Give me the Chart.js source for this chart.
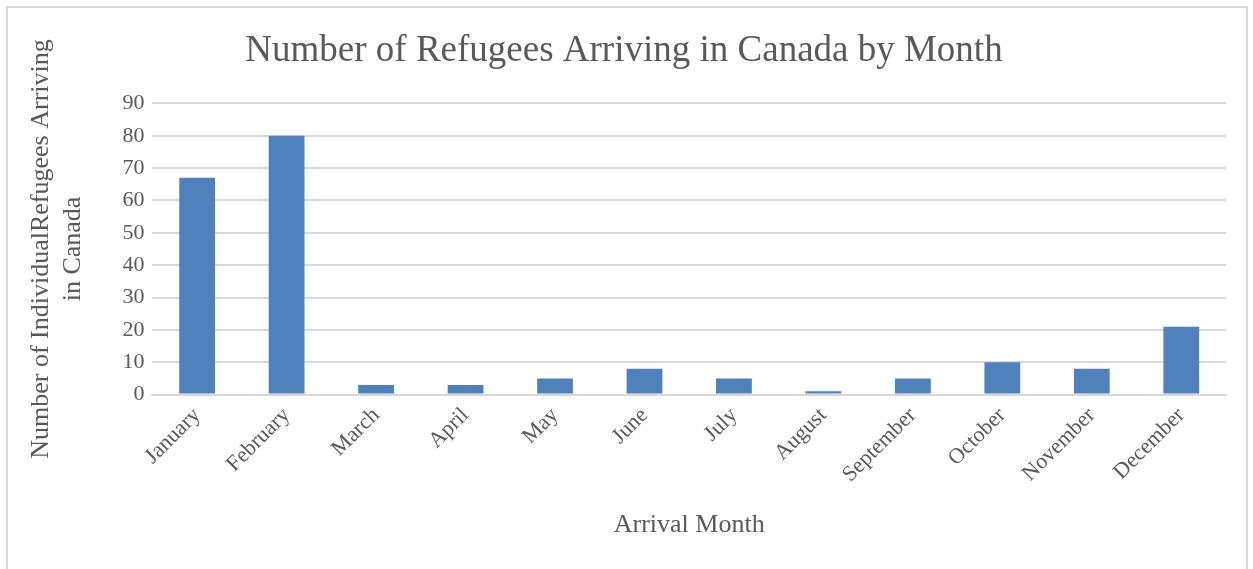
<!DOCTYPE html>
<html>
<head>
<meta charset="utf-8">
<script src="https://cdn.jsdelivr.net/npm/chart.js@4"></script>
<style>
  body { margin: 0; background: #fff; }
  #box { position: absolute; left: 6px; top: 6px; width: 1242px; height: 570px; border: 2px solid #d9d9d9; box-sizing: border-box; }
  #wrap { position: absolute; left: 0; top: 0; width: 1238px; height: 566px; }
</style>
</head>
<body>
<div id="box"><div id="wrap"><canvas id="chart"></canvas></div></div>
<script>
const months = ['January', 'February', 'March', 'April', 'May', 'June', 'July', 'August', 'September', 'October', 'November', 'December']
const refugees = [67, 80, 3, 3, 5, 8, 5, 1, 5, 10, 8, 21]
const yTicks = [0, 10, 20, 30, 40, 50, 60, 70, 80, 90]

const serif = "'Liberation Serif', 'Times New Roman', serif"
const ctx = document.getElementById('chart').getContext('2d')
const chart = new Chart(ctx, {
  type: 'bar',
  data: {
    labels: months,
    datasets: [{
      label: 'Refugees',
      data: refugees,
      backgroundColor: '#4f81bd',
      borderWidth: 0,
      barPercentage: 0.8,
      categoryPercentage: 0.5
    }]
  },
  options: {
    responsive: true,
    maintainAspectRatio: false,
    animation: false,
    layout: { padding: { left: 14, right: 20, top: 21, bottom: 29 } },
    plugins: {
      legend: { display: false },
      tooltip: { enabled: false },
      title: {
        display: true,
        text: 'Number of Refugees Arriving in Canada by Month',
        color: '#595959',
        font: { family: serif, size: 37, weight: 'normal' },
        padding: { top: 0, bottom: 30 }
      }
    },
    scales: {
      x: {
        grid: { display: false, drawTicks: false },
        border: { color: '#d9d9d9', width: 2 },
        ticks: {
          color: '#595959',
          font: { family: serif, size: 22 },
          maxRotation: 45,
          minRotation: 45,
          padding: 8
        },
        title: {
          display: true,
          text: 'Arrival Month',
          color: '#595959',
          font: { family: serif, size: 26 },
          padding: { top: 14 }
        }
      },
      y: {
        min: 0,
        max: 90,
        afterBuildTicks: (axis) => { axis.ticks = yTicks.map(v => ({ value: v })) },
        grid: { color: '#d9d9d9', lineWidth: 2, drawTicks: false },
        border: { display: false },
        ticks: {
          color: '#595959',
          font: { family: serif, size: 22 },
          padding: 8
        },
        title: {
          display: true,
          text: ['Number of IndividualRefugees Arriving', 'in Canada'],
          color: '#595959',
          font: { family: serif, size: 26, lineHeight: 1.2 },
          padding: { bottom: 26 }
        }
      }
    }
  }
})
</script>
</body>
</html>
